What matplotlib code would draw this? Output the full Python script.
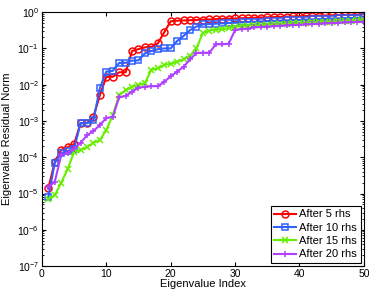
import numpy as np
import matplotlib
matplotlib.use("Agg")
import matplotlib.pyplot as plt

plt.rcParams['font.family'] = ['Liberation Sans', 'DejaVu Sans']
plt.rcParams['mathtext.fontset'] = 'custom'
plt.rcParams['mathtext.rm'] = 'Liberation Sans'

# eigenvalue index 1..50
idx = np.arange(1, 51)

after_5 = [1.4e-5, 7.4e-5, 1.6e-4, 1.9e-4, 2.3e-4, 8.7e-4, 8.7e-4, 1.3e-3, 5.1e-3, 1.65e-2,
           1.65e-2, 2.2e-2, 2.2e-2, 8.5e-2, 9.6e-2, 0.107, 0.11, 0.137, 0.28, 0.56,
           0.58, 0.59, 0.60, 0.61, 0.62, 0.63, 0.64, 0.65, 0.66, 0.67,
           0.68, 0.69, 0.70, 0.71, 0.72, 0.73, 0.74, 0.75, 0.76, 0.77,
           0.78, 0.79, 0.80, 0.81, 0.82, 0.83, 0.84, 0.85, 0.86, 0.87]
after_10 = [8e-6, 7e-5, 1.3e-4, 1.5e-4, 1.7e-4, 8.7e-4, 8.7e-4, 1.05e-3, 8e-3, 2.3e-2,
            2.4e-2, 4e-2, 4e-2, 4.6e-2, 4.7e-2, 7.3e-2, 8.5e-2, 9.5e-2, 0.1, 0.1,
            0.16, 0.22, 0.32, 0.40, 0.46, 0.47, 0.48, 0.49, 0.50, 0.51,
            0.52, 0.53, 0.54, 0.55, 0.56, 0.57, 0.58, 0.59, 0.60, 0.61,
            0.62, 0.63, 0.64, 0.65, 0.66, 0.67, 0.68, 0.69, 0.70, 0.72]
after_15 = [7e-6, 9e-6, 2e-5, 4.7e-5, 1.4e-4, 1.6e-4, 1.9e-4, 2.5e-4, 3e-4, 5.6e-4,
            1.45e-3, 5.1e-3, 7.1e-3, 8.8e-3, 9.8e-3, 1.1e-2, 2.6e-2, 2.8e-2, 3.5e-2, 3.8e-2,
            4.3e-2, 5e-2, 6.3e-2, 0.1, 0.27, 0.31, 0.33, 0.34, 0.36, 0.40,
            0.41, 0.42, 0.43, 0.44, 0.45, 0.46, 0.47, 0.48, 0.49, 0.50,
            0.51, 0.52, 0.53, 0.54, 0.55, 0.56, 0.57, 0.58, 0.60, 0.62]
after_20 = [1.5e-5, 2.1e-5, 1.15e-4, 1.3e-4, 1.7e-4, 2.5e-4, 4e-4, 5.3e-4, 7.7e-4, 1.2e-3,
            1.3e-3, 4.5e-3, 4.9e-3, 6.4e-3, 8.3e-3, 8.7e-3, 9.1e-3, 9.1e-3, 1.2e-2, 1.7e-2,
            2.3e-2, 3.1e-2, 5e-2, 7.5e-2, 7.6e-2, 7.6e-2, 0.13, 0.13, 0.135, 0.32,
            0.34, 0.35, 0.38, 0.39, 0.40, 0.41, 0.42, 0.43, 0.44, 0.45,
            0.46, 0.47, 0.48, 0.49, 0.50, 0.51, 0.52, 0.53, 0.54, 0.55]

labels = ["After 5 rhs", "After 10 rhs", "After 15 rhs", "After 20 rhs"]

fig = plt.figure(figsize=(3.74, 2.96), dpi=100)
ax = fig.add_axes([0.112, 0.101, 0.861, 0.858])

ax.semilogy(idx, after_5, '-o', color='#ff0000', mfc='none', ms=5, lw=1.5, mew=1.1, label=labels[0])
ax.semilogy(idx, after_10, '-s', color='#3060ff', mfc='none', ms=4.5, lw=1.5, mew=1.1, label=labels[1])
ax.semilogy(idx, after_15, '-x', color='#66ee00', ms=4, lw=1.5, mew=1.1, label=labels[2])
ax.semilogy(idx, after_20, '-+', color='#b040ff', ms=5, lw=1.5, mew=1.1, label=labels[3])

ax.set_xlim(0, 50)
ax.set_ylim(1e-7, 1)
ax.set_xticks([0, 10, 20, 30, 40, 50])
ax.set_yticks([10.0 ** k for k in range(-7, 1)])
ax.tick_params(which='both', direction='in', top=True, right=True, labelsize=7.5)
ax.tick_params(which='major', length=3, pad=2)
ax.tick_params(which='minor', length=1.5)
ax.set_xlabel("Eigenvalue Index", fontsize=8, labelpad=0)
ax.set_ylabel("Eigenvalue Residual Norm", fontsize=8)
ax.yaxis.set_label_coords(-0.092, 0.5)

leg = ax.legend(loc='lower right', fontsize=8, fancybox=False, edgecolor='black',
                framealpha=1, handlelength=2.0, borderpad=0.3, labelspacing=0.3,
                handletextpad=0.3, borderaxespad=0.3)
leg.get_frame().set_linewidth(0.8)

fig.savefig("out.png", dpi=100)
